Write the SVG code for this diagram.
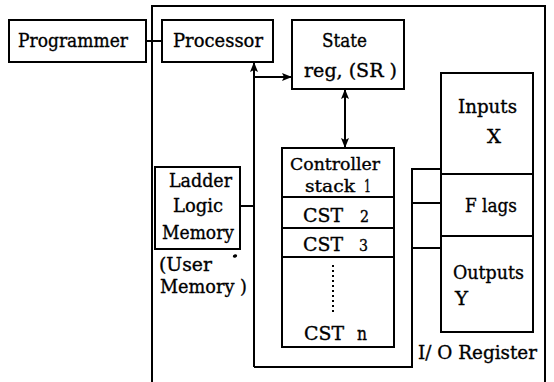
<svg xmlns="http://www.w3.org/2000/svg" width="554" height="382" viewBox="0 0 554 382">
  <style>
    .box { fill: #fff; stroke: #000; stroke-width: 2; }
    .ln { fill: none; stroke: #000; stroke-width: 2; }
    .t { font-family: 'DejaVu Serif', 'Liberation Serif', serif; font-size: 19px; fill: #000; stroke: #000; stroke-width: 0.35; }
    .sm { font-size: 16px; }
    .tight { font-size: 17px; }
  </style>
  <defs>
    <marker id="arr" viewBox="0 0 10 8" refX="10" refY="4" markerWidth="10" markerHeight="8" markerUnits="userSpaceOnUse" orient="auto-start-reverse">
      <path d="M0,0 L10,4 L0,8 L2,4 z" fill="#000"/>
    </marker>
  </defs>
  <rect width="554" height="382" fill="#fff"/>

  <!-- controller enclosure (open at the bottom) -->
  <path id="enclosure" class="ln" d="M152,382 V6 H545 V382"/>

  <g id="connectors">
    <line class="ln" x1="146" y1="41" x2="162" y2="41"/>
    <!-- processor bus -->
    <line class="ln" x1="254" y1="367" x2="254" y2="62" marker-end="url(#arr)"/>
    <line class="ln" x1="254" y1="77" x2="292" y2="77" marker-end="url(#arr)"/>
    <!-- state register <-> stack -->
    <line class="ln" x1="345" y1="89" x2="345" y2="148" marker-start="url(#arr)" marker-end="url(#arr)"/>
    <!-- ladder memory tap -->
    <line class="ln" x1="240" y1="206" x2="254" y2="206"/>
    <!-- loop to I/O register -->
    <path class="ln" d="M254,367 H412 V169 H441"/>
    <line class="ln" x1="412" y1="203" x2="441" y2="203"/>
    <line class="ln" x1="412" y1="248" x2="441" y2="248"/>
  </g>

  <g id="programmer">
    <rect class="box" x="9" y="20" width="137" height="42"/>
    <text class="t" x="18" y="47" textLength="110" lengthAdjust="spacingAndGlyphs">Programmer</text>
  </g>

  <g id="processor">
    <rect class="box" x="162" y="20" width="111" height="42"/>
    <text class="t" x="173" y="47" textLength="90" lengthAdjust="spacingAndGlyphs">Processor</text>
  </g>

  <g id="state-register">
    <rect class="box" x="292" y="20" width="112" height="69"/>
    <text class="t" x="322" y="47" textLength="45" lengthAdjust="spacingAndGlyphs">State</text>
    <text class="t" x="304" y="77" textLength="93" lengthAdjust="spacingAndGlyphs">reg, (SR )</text>
  </g>

  <g id="ladder-memory">
    <rect class="box" x="155" y="167" width="85" height="82"/>
    <text class="t" x="169" y="187" textLength="63" lengthAdjust="spacingAndGlyphs">Ladder</text>
    <text class="t" x="173" y="212" textLength="50" lengthAdjust="spacingAndGlyphs">Logic</text>
    <text class="t" x="162" y="239" textLength="72" lengthAdjust="spacingAndGlyphs">Memory</text>
    <text class="t" x="159" y="271" textLength="53" lengthAdjust="spacingAndGlyphs">(User</text>
    <text class="t" x="160" y="293" textLength="87" lengthAdjust="spacingAndGlyphs">Memory )</text>
    <ellipse cx="235" cy="256" rx="2.2" ry="1.6" transform="rotate(-30 235 256)" fill="#000"/>
  </g>

  <g id="controller-stack">
    <rect class="box" x="282" y="148" width="112" height="199"/>
    <line class="ln" x1="282" y1="197" x2="394" y2="197"/>
    <line class="ln" x1="282" y1="228" x2="394" y2="228"/>
    <line class="ln" x1="282" y1="257" x2="394" y2="257"/>
    <text class="t tight" x="290" y="170" textLength="90" lengthAdjust="spacingAndGlyphs">Controller</text>
    <text class="t tight" x="305" y="192" textLength="50" lengthAdjust="spacingAndGlyphs">stack</text>
    <text class="t sm" x="364" y="192" textLength="7" lengthAdjust="spacingAndGlyphs">1</text>
    <text class="t" x="303" y="222" textLength="40" lengthAdjust="spacingAndGlyphs">CST</text>
    <text class="t sm" x="360" y="222" textLength="9" lengthAdjust="spacingAndGlyphs">2</text>
    <text class="t" x="303" y="251" textLength="40" lengthAdjust="spacingAndGlyphs">CST</text>
    <text class="t sm" x="359" y="251" textLength="9" lengthAdjust="spacingAndGlyphs">3</text>
    <line x1="333" y1="265" x2="333" y2="313" stroke="#000" stroke-width="2" stroke-dasharray="2 3"/>
    <text class="t" x="304" y="340" textLength="40" lengthAdjust="spacingAndGlyphs">CST</text>
    <text class="t" x="357" y="340" textLength="10" lengthAdjust="spacingAndGlyphs">n</text>
  </g>

  <g id="io-register">
    <rect class="box" x="441" y="73" width="92" height="259"/>
    <line class="ln" x1="441" y1="174" x2="533" y2="174"/>
    <line class="ln" x1="441" y1="236" x2="533" y2="236"/>
    <text class="t" x="458" y="113" textLength="59" lengthAdjust="spacingAndGlyphs">Inputs</text>
    <text class="t" x="487" y="143" textLength="14" lengthAdjust="spacingAndGlyphs">X</text>
    <text class="t" x="465" y="212" textLength="52" lengthAdjust="spacingAndGlyphs">F lags</text>
    <text class="t" x="453" y="279" textLength="71" lengthAdjust="spacingAndGlyphs">Outputs</text>
    <text class="t" x="455" y="305" textLength="13" lengthAdjust="spacingAndGlyphs">Y</text>
    <text class="t" x="418" y="359" textLength="119" lengthAdjust="spacingAndGlyphs">I/ O Register</text>
  </g>
</svg>
